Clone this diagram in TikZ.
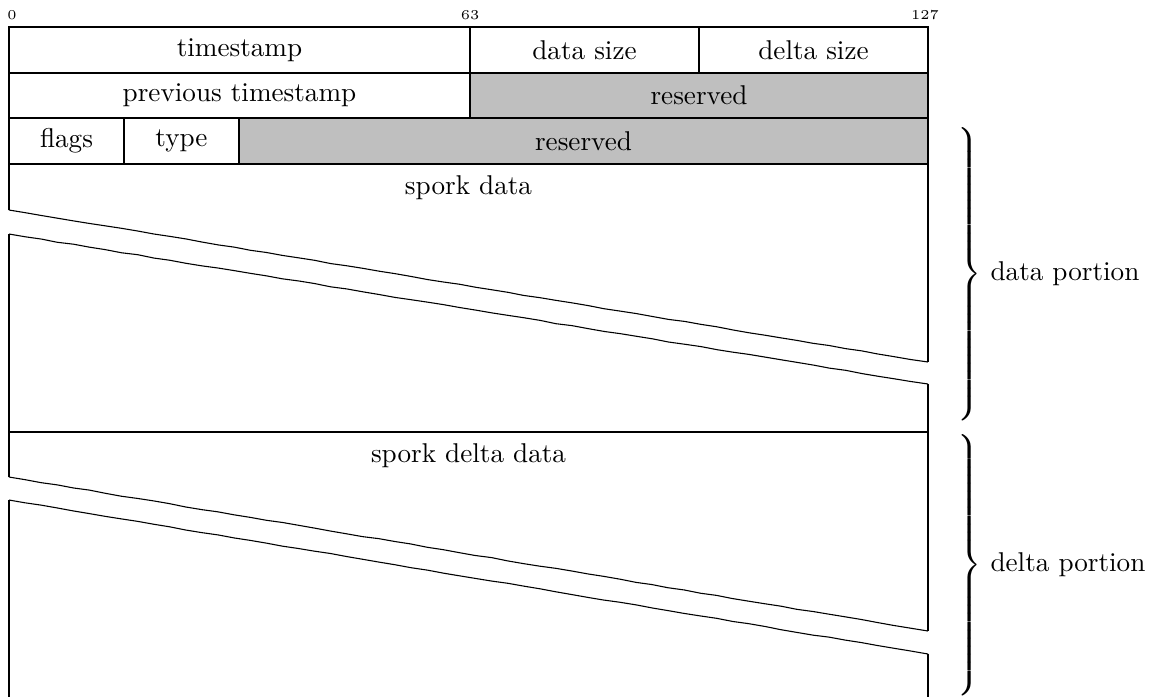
\documentclass[tikz,border=0pt]{standalone}
\usepackage{xcolor}
\usepackage{amsmath}
\usepackage{tikz}
\usetikzlibrary{decorations.pathmorphing}

\begin{document}
\begin{tikzpicture}[x=0.368pt,y=-0.368pt,
                bitnum/.style={font=\tiny,inner sep=0pt},
                resv/.style={fill=lightgray},
                wavy/.style={decorate,decoration={random steps,segment length=6pt,amplitude=0.15pt}},
                grp/.style={inner sep=0pt,anchor=east}]
                \useasboundingbox (0,0) rectangle (1159,697);
                \pgfmathsetseed{11}
                \draw (12,15) node [bitnum] (b0) {0}
                    (470,15) node [bitnum] (b63) {63}
                    (925,15) node [bitnum] (b127) {127};
                \draw[resv] (470,73) rectangle (928,118) (239,118) rectangle (928,164);
                \draw (9,27) rectangle (470,73) (470,27) rectangle (699,73) (699,27) rectangle (928,73)
                    (9,73) rectangle (470,118) (9,118) rectangle (124,164) (124,118) rectangle (239,164);
                \draw (239.5,50) node (ts) {timestamp}
                    (584.5,50) node (dsz) {data size}
                    (813.5,50) node (lsz) {delta size}
                    (239.5,95.5) node (pts) {previous timestamp}
                    (699,95.5) node (res1) {reserved}
                    (66.5,141) node (flg) {flags}
                    (181.5,141) node (typ) {type}
                    (583.5,141) node (res2) {reserved}
                    (468.5,188) node (sd) {spork data}
                    (468.5,456) node (sdd) {spork delta data};
                \draw (9,210) -- (9,164) -- (928,164) -- (928,362)
                    (9,234) -- (9,432) -- (928,432) -- (928,384);
                \draw[wavy] (9,210) -- (928,362);
                \draw[wavy] (9,234) -- (928,384);
                \draw (9,432) -- (9,477) (928,432) -- (928,631)
                    (9,500) -- (9,697) (928,654) -- (928,697);
                \draw[wavy] (9,477) -- (928,631);
                \draw[wavy] (9,500) -- (928,654);
                \draw (982,274) node [grp] (dbr) {$\left.\vcenter{\hrule height 110pt width 0pt}\right\}$}
                    (990,274) node [anchor=west,inner sep=0pt] (dp) {data portion}
                    (982,565) node [grp] (lbr) {$\left.\vcenter{\hrule height 98pt width 0pt}\right\}$}
                    (990,565) node [anchor=west,inner sep=0pt] (lp) {delta portion};
            \end{tikzpicture}
\end{document}
